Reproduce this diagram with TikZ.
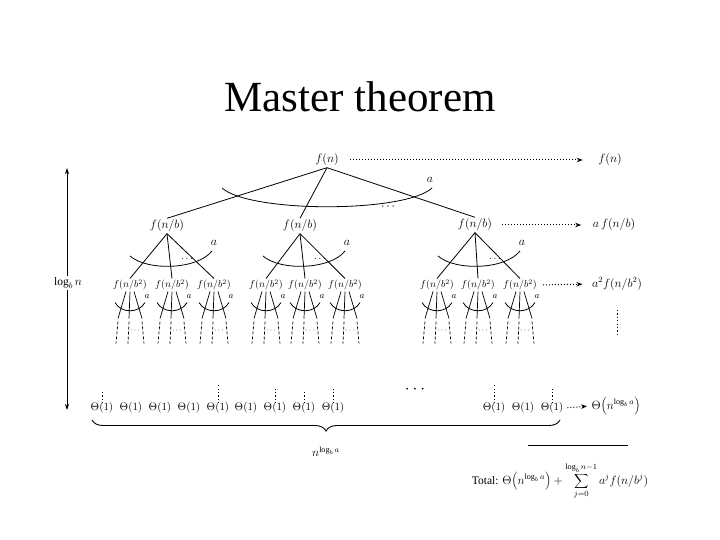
\documentclass[tikz,border=0pt]{standalone}
\usepackage{fontspec}
\setmainfont{Liberation Serif}
\usetikzlibrary{arrows.meta,decorations.pathreplacing}
\begin{document}
\begin{tikzpicture}[x=1pt,y=-1pt,
  lab/.style={font=\fontsize{11.5}{13}\selectfont, inner sep=1.5pt},
  lab2/.style={font=\fontsize{10}{12}\selectfont, inner sep=1pt},
  ed/.style={line width=0.8pt},
  lev/.style={dotted, line width=1pt, -{Stealth[length=6pt,width=4.5pt]}},
  fan/.style={line width=0.8pt},
  sub/.style={line width=0.7pt},
  subd/.style={line width=0.7pt, dash pattern=on 3pt off 2pt},
  vd/.style={line width=1pt, dash pattern=on 1.2pt off 2.2pt},
]
\useasboundingbox (0,0) rectangle (720,540);
\node[font=\fontsize{43}{48}\selectfont] (title) at (360,97) {Master theorem};

% root
\node[lab] (r) at (327,160) {$f(n)$};
\node[lab] (R0) at (610,160) {$f(n)$};
\draw[lev, shorten <=10pt, shorten >=14pt] (r.east) -- (R0.west);

% level 1
\node[lab] (a1) at (167,226) {$f(n/b)$};
\node[lab] (a2) at (300,226) {$f(n/b)$};
\node[lab] (a3) at (475,225) {$f(n/b)$};
\node[lab] (R1) at (614,225) {$a\,f(n/b)$};
\draw[lev, shorten <=8pt, shorten >=10pt] (a3.east) -- (R1.west);
\draw[ed] (r.south) -- (a1.north);
\draw[ed] (r.south) -- (a2.north);
\draw[ed] (r.south) -- (a3.north);
\draw[fan] (222,188) .. controls (250,213) and (405,213) .. (432,188);
\node[lab] (ra) at (430,180) {$a$};
\node[lab] (rdots) at (388,207) {$\cdots$};

% level 2
\foreach \n/\x in {b1/130,b2/172,b3/214,b4/266,b5/305,b6/345,b7/437,b8/478,b9/520} {
  \node[lab2] (\n) at (\x,285) {$f(n/b^2)$};
}
\node[lab] (R2) at (617,284) {$a^2 f(n/b^2)$};
\draw[lev, shorten <=5pt, shorten >=8pt] (b9.east) -- (R2.west);

\foreach \p/\c in {a1/b1,a1/b2,a1/b3,a2/b4,a2/b5,a2/b6,a3/b7,a3/b8,a3/b9} {
  \draw[ed] (\p.south) -- (\c.north);
}
\foreach \cx/\nm in {167/a1,300/a2,475/a3} {
  \draw[fan] (\cx-37,256) .. controls (\cx-20,271) and (\cx+30,270) .. (\cx+45,251);
  \node[lab] (\nm a) at (\cx+47,243) {$a$};
  \node[lab2] (\nm d) at (\cx+20,259) {$\cdots$};
}

% level-2 subtrees
\foreach \n in {b1,b2,b3,b4,b5,b6,b7,b8,b9} {
  \path (\n.south) coordinate (\n s);
  \draw[sub] ([xshift=-4pt]\n s) -- ++(-8,27) coordinate (\n l);
  \draw[sub] (\n s) -- ++(-1,27) coordinate (\n m);
  \draw[sub] ([xshift=4pt]\n s) -- ++(8,27) coordinate (\n r);
  \draw[fan] ([shift={(-15,11)}]\n s) .. controls +(6,11) and +(-6,11) .. ([shift={(15,11)}]\n s);
  \node[inner sep=0.5pt, font=\fontsize{9.5}{10}\selectfont] (\n a) at ([shift={(17,5)}]\n s) {$a$};
  \draw[subd] ([shift={(0,3)}]\n l) -- ++(-2,22);
  \draw[subd] ([shift={(0,3)}]\n m) -- ++(-1,22);
  \draw[subd] ([shift={(0,3)}]\n r) -- ++(2,22);
  \node[inner sep=0pt, font=\fontsize{8}{9}\selectfont] (\n d) at ([shift={(6,12)}]\n m) {$\cdots$};
}
\draw[vd] (617,310) -- (617,334);

% leaves
\foreach \n/\x in {t1/102,t2/131,t3/160,t4/189,t5/218,t6/246,t7/275,t8/304,t9/333,u1/494,u2/523,u3/552} {
  \node[inner sep=1pt, font=\fontsize{11}{12}\selectfont] (\n) at (\x,408) {$\Theta(1)$};
}
\foreach \n/\h in {t1/12,t5/20,t7/14,t8/12,t9/16,u1/18,u3/16} {
  \draw[vd] ([yshift=-2pt]\n.north) -- ++(0,-\h);
}
\node[font=\fontsize{16}{18}\selectfont] (ldots) at (415,390) {$\cdots$};
\node[lab] (Tn) at (616,406) {$\Theta\Bigl(n^{\log_b a}\Bigr)$};
\draw[lev, shorten <=3pt, shorten >=3pt] (u3.east) -- (Tn.west);

% brace
\coordinate (bl) at (92,420);
\coordinate (br) at (560,420);
\draw[decorate, decoration={brace, mirror, amplitude=11pt}, line width=0.9pt] (bl) -- (br);
\node[lab] (nl) at (326,452) {$n^{\log_b a}$};

% height arrow
\coordinate (lt) at (67,168);
\coordinate (lb) at (67,410);
\draw[line width=0.8pt, {Stealth[length=6pt,width=4pt]}-{Stealth[length=6pt,width=4pt]}] (lt) -- (lb);
\node[lab, fill=white, inner sep=2pt] (logn) at (68,283) {$\log_b n$};

% total
\coordinate (hl) at (528,445);
\coordinate (hr) at (628,445);
\draw[line width=0.8pt] (hl) -- (hr);
\node[lab] (tot) at (560,481) {Total: $\displaystyle \Theta\Bigl(n^{\log_b a}\Bigr) + \sum_{j=0}^{\log_b n-1} a^j f(n/b^j)$};
\end{tikzpicture}
\end{document}
